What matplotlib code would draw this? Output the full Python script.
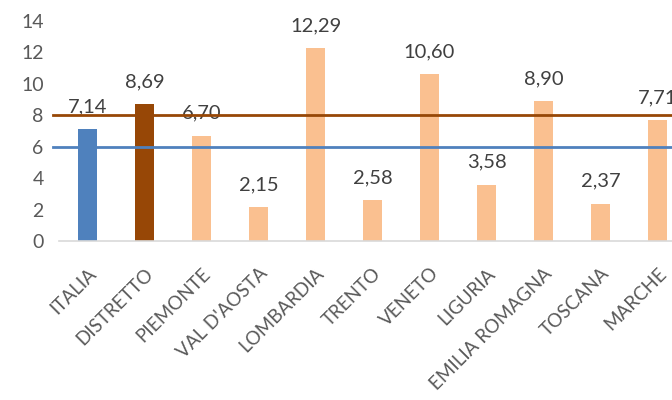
import matplotlib.pyplot as plt
import numpy as np

plt.rcParams['font.family'] = ['Lato', 'DejaVu Sans']

# valori per regione
regioni = ['ITALIA', 'DISTRETTO', 'PIEMONTE', "VAL D'AOSTA", 'LOMBARDIA', 'TRENTO',
           'VENETO', 'LIGURIA', 'EMILIA ROMAGNA', 'TOSCANA', 'MARCHE']
valori = [7.14, 8.69, 6.70, 2.15, 12.29, 2.58, 10.60, 3.58, 8.90, 2.37, 7.71]
soglia_distretto = 8
soglia_italia = 6

blu = '#4F81BD'
marrone = '#974706'
arancio = '#FAC090'
colori = [blu, marrone] + [arancio] * (len(regioni) - 2)

fig = plt.figure(figsize=(6.72, 4.0), dpi=100)
# the plot area runs past the right edge on purpose
ax = fig.add_axes([59 / 672, 159 / 400, 627 / 672, 220 / 400])

x = np.arange(len(regioni))
ax.bar(x, valori, width=0.32, color=colori, zorder=2)

for xi, v in zip(x, valori):
    ax.annotate('{:.2f}'.format(v).replace('.', ','), (xi, v),
                xytext=(0, 10), textcoords='offset points',
                ha='center', va='bottom', fontsize=14.5, color='#404040',
                annotation_clip=False)

# reference lines
xs = [-0.605, len(regioni)]
ax.plot(xs, [soglia_distretto] * 2, color=marrone, lw=2, zorder=3, clip_on=False)
ax.plot(xs, [soglia_italia] * 2, color=blu, lw=2, zorder=3, clip_on=False)

ax.set_xlim(-0.5, len(regioni) - 0.5)
ax.set_ylim(0, 14)
ax.set_yticks(range(0, 15, 2))
ax.set_xticks(x)
ax.set_xticklabels(regioni, rotation=45, ha='right', va='top', rotation_mode='anchor',
                   fontsize=13.5, color='#595959')
ax.tick_params(axis='both', length=0)
ax.tick_params(axis='y', labelsize=14, labelcolor='#595959', pad=11)
ax.tick_params(axis='x', pad=17)

for s in ['top', 'right', 'left']:
    ax.spines[s].set_visible(False)
ax.spines['bottom'].set_color('#D9D9D9')
ax.spines['bottom'].set_linewidth(1.2)

fig.savefig('out.png', dpi=100)
